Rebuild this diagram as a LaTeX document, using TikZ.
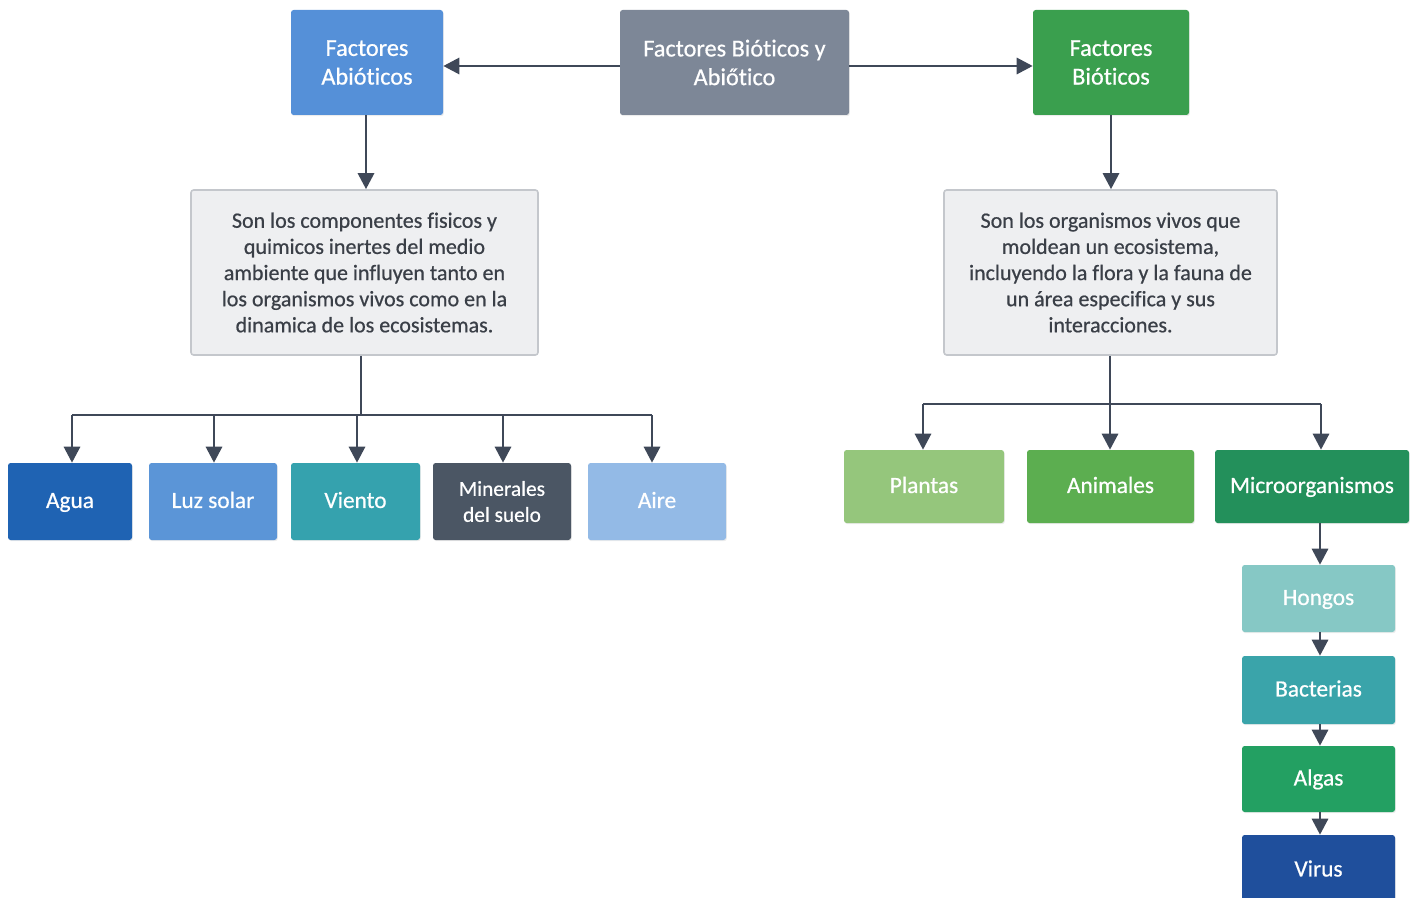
\documentclass[tikz,border=0pt]{standalone}
\usepackage{fontspec}
\setmainfont{Carlito}[Ligatures={NoCommon}]
\newfontfamily\medf{Carlito}[FakeBold=0.6,Ligatures={NoCommon}]
\usetikzlibrary{arrows.meta,shadows}
\definecolor{cabio}{HTML}{5590D8}
\definecolor{ccent}{HTML}{7D8797}
\definecolor{cbio}{HTML}{3A9F4E}
\definecolor{cagua}{HTML}{1F63B3}
\definecolor{cluz}{HTML}{5B95D7}
\definecolor{cvien}{HTML}{35A2AE}
\definecolor{cmin}{HTML}{4B5664}
\definecolor{caire}{HTML}{93BAE6}
\definecolor{cplan}{HTML}{95C67C}
\definecolor{cani}{HTML}{5CAE50}
\definecolor{cmic}{HTML}{23905B}
\definecolor{chon}{HTML}{86C8C5}
\definecolor{cbac}{HTML}{3AA4AA}
\definecolor{calg}{HTML}{23A062}
\definecolor{cvir}{HTML}{1F4F9C}
\definecolor{arr}{HTML}{3F4858}
\definecolor{descfill}{HTML}{EEEFF1}
\definecolor{descline}{HTML}{C4C7CC}
\definecolor{txt}{HTML}{3A3F47}
\begin{document}
\begin{tikzpicture}[x=0.75pt,y=-0.75pt,
 box/.style={rounded corners=2pt, text=white, align=center, inner sep=0pt,
   font=\medf\fontsize{17.5}{21}\selectfont,
   drop shadow={opacity=0.15,shadow xshift=0.6pt,shadow yshift=-0.9pt}},
 one/.style={text height=0.97em, text depth=0.0em},
 title/.style={box, font=\medf\fontsize{18.2}{21.5}\selectfont},
 desc/.style={rounded corners=2pt, fill=descfill, draw=descline, line width=1.2pt,
   text=txt, align=center, font=\medf\fontsize{16.5}{19.6}\selectfont, inner sep=0pt},
 conn/.style={draw=arr, line width=2.2pt, -{Triangle[width=12pt,length=12pt]}},
 bus/.style={draw=arr, line width=2.2pt}]
\useasboundingbox (0,0) rectangle (1416,898);

% top row
\node[title, fill=cabio, minimum width=152*0.75pt, minimum height=105*0.75pt] (abio) at (367,62.5) {Factores\\Abióticos};
\node[title, fill=ccent, minimum width=229*0.75pt, minimum height=105*0.75pt] (cent) at (734.5,62.5) {Factores Bióticos y\\Abiőtico};
\node[title, fill=cbio, minimum width=156*0.75pt, minimum height=105*0.75pt] (bio) at (1111,62.5) {Factores\\Bióticos};

% descriptions
\node[desc, minimum width=347*0.75pt, minimum height=165*0.75pt] (dl) at (364.5,272.5)
 {Son los componentes fisicos y\\quimicos inertes del medio\\ambiente que influyen tanto en\\los organismos vivos como en la\\dinamica de los ecosistemas.};
\node[desc, minimum width=333*0.75pt, minimum height=165*0.75pt] (dr) at (1110.5,272.5)
 {Son los organismos vivos que\\moldean un ecosistema,\\incluyendo la flora y la fauna de\\un área especifica y sus\\interacciones.};

% abiotic row
\node[box, one, fill=cagua, minimum width=124*0.75pt, minimum height=77*0.75pt] (agua) at (70,501.5) {Agua};
\node[box, one, fill=cluz, minimum width=128*0.75pt, minimum height=77*0.75pt] (luz) at (213,501.5) {Luz solar};
\node[box, one, fill=cvien, minimum width=129*0.75pt, minimum height=77*0.75pt] (vien) at (355.5,501.5) {Viento};
\node[box, fill=cmin, minimum width=138*0.75pt, minimum height=77*0.75pt, font=\medf\fontsize{16}{19.5}\selectfont] (mine) at (502,501.5) {Minerales\\del suelo};
\node[box, one, fill=caire, minimum width=138*0.75pt, minimum height=77*0.75pt] (aire) at (657,501.5) {Aire};

% biotic row
\node[box, one, fill=cplan, minimum width=160*0.75pt, minimum height=73*0.75pt] (plan) at (924,486.5) {Plantas};
\node[box, one, fill=cani, minimum width=167*0.75pt, minimum height=73*0.75pt] (ani) at (1110.5,486.5) {Animales};
\node[box, one, fill=cmic, minimum width=194*0.75pt, minimum height=73*0.75pt] (mic) at (1312,486.5) {Microorganismos};

% chain
\node[box, one, fill=chon, minimum width=153*0.75pt, minimum height=67*0.75pt] (hon) at (1318.5,598.5) {Hongos};
\node[box, one, fill=cbac, minimum width=153*0.75pt, minimum height=68*0.75pt] (bac) at (1318.5,690) {Bacterias};
\node[box, one, fill=calg, minimum width=153*0.75pt, minimum height=66*0.75pt] (alg) at (1318.5,779) {Algas};
\node[box, one, fill=cvir, minimum width=153*0.75pt, minimum height=70*0.75pt] (vir) at (1318.5,870) {Virus};

% top connectors
\coordinate (hy) at (0,66);
\draw[conn] (cent.west |- hy) -- (abio.east |- hy);
\draw[conn] (cent.east |- hy) -- (bio.west |- hy);
\coordinate (ax) at (366,0);
\draw[conn] (abio.south -| ax) -- (dl.north -| ax);
\draw[conn] (bio.south) -- (bio.south |- dr.north);

% left bus
\coordinate (bl) at (361,415);
\coordinate (bl1) at (72,415);
\coordinate (bl2) at (214,415);
\coordinate (bl3) at (357,415);
\coordinate (bl4) at (503,415);
\coordinate (bl5) at (652,415);
\draw[bus] (dl.south -| bl) -- (bl);
\draw[bus] (bl1) -- (bl5);
\draw[conn] (bl1) -- (agua.north -| bl1);
\draw[conn] (bl2) -- (luz.north -| bl2);
\draw[conn] (bl3) -- (vien.north -| bl3);
\draw[conn] (bl4) -- (mine.north -| bl4);
\draw[conn] (bl5) -- (aire.north -| bl5);

% right bus
\coordinate (br) at (1110,404);
\coordinate (br1) at (923,404);
\coordinate (br3) at (1321,404);
\draw[bus] (dr.south -| br) -- (br);
\draw[bus] (br1) -- (br3);
\draw[conn] (br1) -- (plan.north -| br1);
\draw[conn] (br) -- (ani.north -| br);
\draw[conn] (br3) -- (mic.north -| br3);

% chain connectors
\coordinate (cx) at (1320,0);
\draw[conn] (mic.south -| cx) -- (hon.north -| cx);
\draw[conn] (hon.south -| cx) -- (bac.north -| cx);
\draw[conn] (bac.south -| cx) -- (alg.north -| cx);
\draw[conn] (alg.south -| cx) -- (vir.north -| cx);
\end{tikzpicture}
\end{document}
